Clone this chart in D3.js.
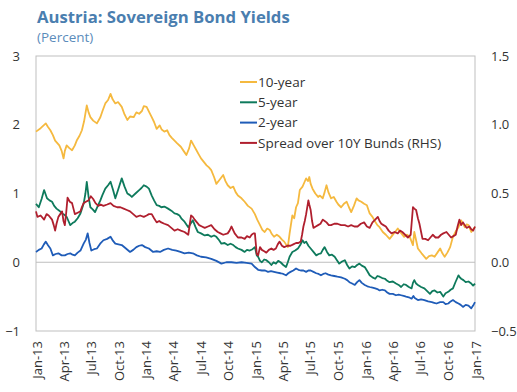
<!DOCTYPE html>
<html><head><meta charset="utf-8">
<script src="https://cdn.jsdelivr.net/npm/d3@7"></script>
<style>body{margin:0;background:#fff}svg{display:block}</style>
</head><body><svg id="c" width="517" height="392"></svg>
<script>
// months since Jan-2013, value
const tenYear = [[0,1.90],[0.5,1.95],[1.06,2.02],[1.3,1.97],[1.6,1.92],[1.9,1.85],[2.15,1.77],[2.6,1.70],[2.85,1.62],[3.06,1.51],[3.2,1.62],[3.4,1.70],[3.7,1.66],[4,1.63],[4.3,1.70],[4.5,1.77],[4.8,1.84],[5.06,1.92],[5.3,2.05],[5.6,2.28],[5.8,2.18],[6,2.11],[6.3,2.06],[6.7,2.02],[7.07,2.11],[7.3,2.20],[7.6,2.31],[7.9,2.36],[8.17,2.45],[8.4,2.37],[8.7,2.31],[9.0,2.33],[9.4,2.26],[9.7,2.15],[10,2.07],[10.3,2.12],[10.7,2.11],[11.0,2.18],[11.3,2.16],[11.6,2.20],[11.8,2.27],[12.1,2.26],[12.35,2.19],[12.65,2.11],[12.9,2.04],[13.2,1.94],[13.56,1.99],[13.8,1.93],[14.1,1.90],[14.4,1.92],[14.65,1.85],[14.9,1.81],[15.2,1.77],[15.5,1.73],[15.9,1.68],[16.2,1.62],[16.5,1.56],[16.8,1.66],[17,1.77],[17.3,1.70],[17.6,1.63],[17.85,1.57],[18.1,1.51],[18.4,1.46],[18.7,1.41],[18.95,1.38],[19.2,1.34],[19.5,1.24],[19.75,1.14],[20.1,1.20],[20.5,1.27],[20.75,1.18],[21,1.12],[21.3,1.08],[21.6,1.10],[21.85,1.02],[22.1,0.97],[22.5,0.93],[22.85,0.88],[23.2,0.82],[23.6,0.78],[23.95,0.70],[24.2,0.62],[24.5,0.54],[24.75,0.47],[25,0.44],[25.3,0.49],[25.6,0.47],[25.85,0.41],[26.1,0.37],[26.4,0.40],[26.7,0.37],[26.95,0.33],[27.2,0.30],[27.4,0.26],[27.6,0.22],[27.8,0.42],[28.1,0.68],[28.3,0.64],[28.5,0.80],[28.7,0.86],[28.9,1.05],[29.2,1.10],[29.4,1.16],[29.6,1.22],[29.8,1.18],[29.95,1.24],[30.1,1.14],[30.3,1.07],[30.6,1.00],[30.9,0.95],[31.1,0.97],[31.4,0.93],[31.6,1.02],[31.8,1.12],[32.0,1.02],[32.3,0.93],[32.6,0.95],[32.9,0.88],[33.1,0.84],[33.4,0.80],[33.7,0.85],[34,0.88],[34.25,0.80],[34.5,0.73],[34.8,0.82],[35.1,0.93],[35.3,0.90],[35.6,0.88],[35.9,0.85],[36.2,0.83],[36.5,0.71],[36.8,0.66],[37.1,0.59],[37.35,0.54],[37.6,0.51],[37.97,0.44],[38.3,0.40],[38.7,0.34],[39,0.39],[39.3,0.44],[39.6,0.49],[40,0.42],[40.3,0.37],[40.6,0.40],[40.9,0.37],[41.25,0.25],[41.4,0.44],[41.8,0.20],[42.2,0.13],[42.45,0.09],[42.7,0.05],[43,0.09],[43.3,0.10],[43.6,0.08],[43.9,0.14],[44.2,0.20],[44.45,0.13],[44.7,0.08],[45,0.14],[45.3,0.22],[45.6,0.37],[45.9,0.45],[46.2,0.51],[46.5,0.61],[46.7,0.56],[46.9,0.51],[47.1,0.55],[47.3,0.54],[47.6,0.44],[47.8,0.48],[48,0.51]];

const fiveYear = [[0,0.85],[0.3,0.80],[0.6,0.92],[0.87,1.05],[1.2,0.93],[1.5,0.90],[1.8,0.88],[2.05,0.82],[2.3,0.78],[2.6,0.75],[2.9,0.71],[3.15,0.69],[3.4,0.66],[3.6,0.60],[3.8,0.54],[4.05,0.57],[4.3,0.59],[4.6,0.64],[4.9,0.71],[5.25,0.85],[5.45,1.00],[5.6,1.17],[5.8,0.95],[6,0.80],[6.25,0.77],[6.5,0.73],[6.8,0.82],[7.07,0.90],[7.3,0.98],[7.6,1.07],[7.9,1.12],[8.17,1.17],[8.45,1.05],[8.7,0.93],[9.0,1.05],[9.4,1.22],[9.7,1.10],[10,1.00],[10.25,0.98],[10.5,0.95],[10.9,1.00],[11.3,1.05],[11.55,1.08],[11.8,1.12],[12.1,1.10],[12.35,1.07],[12.65,0.97],[12.9,0.90],[13.2,0.83],[13.5,0.82],[13.75,0.80],[14.1,0.81],[14.5,0.78],[14.85,0.75],[15.2,0.71],[15.5,0.70],[15.75,0.68],[16.0,0.63],[16.3,0.59],[16.5,0.55],[16.7,0.51],[16.95,0.56],[17.2,0.61],[17.5,0.51],[17.75,0.44],[18.1,0.42],[18.5,0.39],[18.85,0.40],[19.2,0.37],[19.5,0.39],[19.75,0.37],[20.05,0.32],[20.3,0.27],[20.65,0.28],[21,0.25],[21.3,0.27],[21.6,0.25],[21.85,0.22],[22.1,0.20],[22.5,0.18],[22.85,0.15],[23.1,0.18],[23.4,0.17],[23.7,0.19],[23.95,0.22],[24.15,0.10],[24.3,0.08],[24.5,0.02],[24.7,0.00],[24.95,0.04],[25.2,0.03],[25.5,0.00],[25.8,-0.04],[26.05,0.00],[26.3,-0.02],[26.55,0.02],[26.8,0.00],[27.1,-0.04],[27.4,-0.07],[27.6,0.00],[27.8,0.08],[28.1,0.15],[28.4,0.17],[28.7,0.20],[28.95,0.25],[29.2,0.32],[29.4,0.28],[29.6,0.30],[29.85,0.24],[30.1,0.20],[30.4,0.15],[30.7,0.10],[30.95,0.12],[31.2,0.13],[31.4,0.18],[31.6,0.22],[31.85,0.15],[32.1,0.10],[32.4,0.11],[32.7,0.08],[32.95,0.03],[33.2,-0.02],[33.5,0.01],[33.8,0.03],[34.05,-0.04],[34.3,-0.09],[34.6,-0.06],[34.9,-0.07],[35.15,-0.04],[35.4,-0.02],[35.65,-0.05],[35.97,-0.07],[36.25,-0.13],[36.5,-0.19],[36.8,-0.22],[37.1,-0.24],[37.35,-0.20],[37.6,-0.21],[37.9,-0.23],[38.2,-0.24],[38.45,-0.27],[38.7,-0.29],[39.05,-0.28],[39.4,-0.31],[39.7,-0.33],[39.97,-0.36],[40.25,-0.32],[40.5,-0.33],[40.8,-0.36],[41.1,-0.38],[41.25,-0.30],[41.4,-0.26],[41.6,-0.31],[41.8,-0.33],[42.15,-0.36],[42.5,-0.38],[42.8,-0.42],[43.1,-0.46],[43.35,-0.42],[43.6,-0.41],[43.9,-0.44],[44.2,-0.43],[44.4,-0.47],[44.55,-0.50],[44.8,-0.45],[45.1,-0.43],[45.35,-0.40],[45.6,-0.38],[45.9,-0.28],[46.2,-0.19],[46.35,-0.22],[46.5,-0.24],[46.75,-0.26],[47,-0.29],[47.3,-0.28],[47.6,-0.31],[47.8,-0.34],[48,-0.31]];

const twoYear = [[0,0.15],[0.3,0.18],[0.6,0.20],[0.85,0.26],[1.06,0.30],[1.3,0.25],[1.6,0.20],[1.9,0.10],[2.2,0.12],[2.5,0.13],[2.85,0.10],[3.2,0.10],[3.5,0.12],[3.8,0.13],[4.05,0.11],[4.3,0.10],[4.6,0.14],[4.9,0.17],[5.25,0.27],[5.5,0.33],[5.7,0.42],[5.9,0.28],[6.1,0.17],[6.4,0.19],[6.7,0.20],[7.05,0.27],[7.4,0.32],[7.8,0.34],[8.17,0.37],[8.45,0.31],[8.7,0.27],[9.05,0.26],[9.4,0.25],[9.85,0.20],[10.3,0.15],[10.65,0.18],[11,0.22],[11.3,0.24],[11.6,0.25],[11.95,0.22],[12.35,0.20],[12.8,0.15],[13.2,0.16],[13.6,0.15],[14.05,0.18],[14.5,0.20],[14.95,0.18],[15.4,0.17],[15.85,0.15],[16.3,0.13],[16.75,0.14],[17.2,0.13],[17.65,0.10],[18.1,0.08],[18.65,0.07],[19.2,0.05],[19.75,0.02],[20.3,-0.02],[20.85,0.00],[21.4,0.00],[21.95,-0.01],[22.5,0.00],[23.05,-0.01],[23.6,-0.02],[23.95,-0.07],[24.3,-0.11],[24.7,-0.12],[25.05,-0.12],[25.4,-0.14],[25.75,-0.13],[26.1,-0.14],[26.45,-0.15],[26.8,-0.16],[27.1,-0.17],[27.4,-0.19],[27.65,-0.16],[27.9,-0.14],[28.2,-0.12],[28.5,-0.09],[28.75,-0.11],[29,-0.12],[29.3,-0.12],[29.6,-0.14],[29.85,-0.12],[30.1,-0.12],[30.4,-0.14],[30.7,-0.16],[30.95,-0.17],[31.2,-0.19],[31.45,-0.17],[31.7,-0.16],[32,-0.18],[32.3,-0.19],[32.65,-0.20],[33,-0.21],[33.4,-0.22],[33.8,-0.24],[34.05,-0.26],[34.3,-0.29],[34.6,-0.31],[34.9,-0.33],[35.15,-0.29],[35.4,-0.26],[35.65,-0.30],[35.97,-0.33],[36.25,-0.35],[36.5,-0.36],[36.8,-0.37],[37.1,-0.38],[37.35,-0.39],[37.6,-0.41],[37.9,-0.40],[38.2,-0.41],[38.45,-0.44],[38.7,-0.46],[39.05,-0.46],[39.4,-0.48],[39.7,-0.47],[39.97,-0.48],[40.25,-0.49],[40.5,-0.50],[40.8,-0.51],[41.1,-0.53],[41.3,-0.49],[41.45,-0.52],[41.8,-0.55],[42.15,-0.54],[42.5,-0.55],[42.9,-0.57],[43.3,-0.58],[43.55,-0.59],[43.8,-0.60],[44.2,-0.58],[44.55,-0.58],[44.8,-0.61],[45.1,-0.60],[45.35,-0.57],[45.6,-0.55],[45.9,-0.58],[46.2,-0.60],[46.45,-0.62],[46.7,-0.65],[47,-0.62],[47.3,-0.63],[47.6,-0.67],[47.8,-0.63],[48,-0.58]];

const spread = [[0,0.37],[0.15,0.33],[0.5,0.34],[0.87,0.31],[1.15,0.35],[1.4,0.34],[1.8,0.31],[2.0,0.27],[2.15,0.23],[2.3,0.28],[2.5,0.33],[2.7,0.35],[2.9,0.37],[3.05,0.30],[3.2,0.27],[3.35,0.36],[3.5,0.47],[3.75,0.44],[4,0.43],[4.15,0.39],[4.3,0.35],[4.6,0.36],[4.9,0.37],[5.05,0.40],[5.25,0.43],[5.5,0.44],[5.8,0.45],[6.05,0.48],[6.3,0.46],[6.55,0.43],[6.85,0.41],[7.1,0.42],[7.4,0.41],[7.8,0.42],[8.17,0.43],[8.5,0.41],[8.9,0.40],[9.25,0.40],[9.6,0.39],[9.95,0.38],[10.3,0.37],[10.65,0.35],[11,0.33],[11.4,0.34],[11.8,0.33],[12.1,0.34],[12.35,0.35],[12.65,0.35],[12.9,0.32],[13.2,0.29],[13.5,0.30],[13.75,0.29],[14.1,0.28],[14.5,0.27],[14.85,0.25],[15.2,0.23],[15.55,0.24],[15.9,0.23],[16.3,0.22],[16.7,0.20],[17,0.34],[17.2,0.33],[17.4,0.31],[17.65,0.29],[17.9,0.27],[18.2,0.26],[18.5,0.25],[18.85,0.26],[19.2,0.27],[19.55,0.24],[19.9,0.22],[20.2,0.21],[20.5,0.20],[21,0.21],[21.2,0.23],[21.4,0.26],[21.75,0.21],[22.1,0.18],[22.5,0.18],[22.85,0.17],[23.1,0.19],[23.4,0.18],[23.6,0.20],[23.8,0.21],[23.95,0.21],[24.15,0.06],[24.3,0.05],[24.5,0.11],[24.7,0.09],[24.95,0.08],[25.2,0.07],[25.5,0.09],[25.8,0.10],[26.05,0.09],[26.3,0.10],[26.5,0.13],[26.7,0.15],[26.95,0.12],[27.2,0.11],[27.55,0.12],[27.9,0.12],[28.2,0.13],[28.5,0.14],[28.75,0.14],[29,0.15],[29.15,0.20],[29.3,0.26],[29.45,0.30],[29.6,0.35],[29.85,0.45],[29.95,0.42],[30.1,0.38],[30.25,0.30],[30.4,0.25],[30.65,0.26],[30.9,0.27],[31.15,0.28],[31.4,0.31],[31.6,0.30],[31.8,0.29],[32.05,0.27],[32.3,0.27],[32.65,0.28],[33,0.28],[33.4,0.27],[33.8,0.27],[34.15,0.26],[34.5,0.27],[34.85,0.26],[35.2,0.26],[35.55,0.28],[35.9,0.29],[36.2,0.26],[36.5,0.25],[36.8,0.29],[37.1,0.31],[37.4,0.33],[37.6,0.30],[37.8,0.28],[38.05,0.27],[38.3,0.26],[38.6,0.23],[38.9,0.21],[39.25,0.22],[39.6,0.21],[39.85,0.23],[40.1,0.22],[40.4,0.20],[40.7,0.18],[41,0.20],[41.25,0.40],[41.4,0.39],[41.6,0.38],[41.8,0.32],[41.97,0.28],[42.15,0.22],[42.3,0.17],[42.6,0.17],[42.9,0.16],[43.15,0.18],[43.4,0.20],[43.7,0.18],[44,0.18],[44.3,0.20],[44.55,0.21],[44.9,0.22],[45.15,0.20],[45.4,0.18],[45.65,0.19],[45.9,0.20],[46.1,0.26],[46.3,0.31],[46.5,0.27],[46.7,0.29],[46.9,0.27],[47.1,0.25],[47.4,0.26],[47.6,0.24],[47.8,0.23],[48,0.26]];

const leftTicks = [-1, 0, 1, 2, 3];
const rightTicks = [-0.5, 0.0, 0.5, 1.0, 1.5];
const seriesNames = ["10-year", "5-year", "2-year", "Spread over 10Y Bunds (RHS)"];
const seriesColors = ["#F5B93F", "#0E7A5C", "#1F5CB8", "#B01F2E"];

const svg = d3.select("#c");
const L = 36, R = 475, T = 56, B = 331;
const start = new Date(2013, 0, 1), end = new Date(2017, 0, 1);
const toDate = m => { const y = Math.floor(m / 12); const mm = m - y*12; const d0 = new Date(2013 + y, Math.floor(mm), 1); const d1 = new Date(2013 + y, Math.floor(mm) + 1, 1); return new Date(+d0 + (mm - Math.floor(mm)) * (d1 - d0)); };
const x = d3.scaleTime().domain([start, end]).range([L, R]);
const yL = d3.scaleLinear().domain([-1, 3]).range([B, T]);
const yR = d3.scaleLinear().domain([-0.5, 1.5]).range([B, T]);

const font = "'Open Sans', 'Noto Sans', sans-serif";
svg.append("text").attr("x", 37).attr("y", 23).attr("fill", "#4A7EAF").attr("font-family", font)
  .attr("font-size", 16.7).attr("font-weight", "bold").text("Austria: Sovereign Bond Yields");
svg.append("text").attr("x", 37).attr("y", 42).attr("fill", "#5B8CBB").attr("font-family", font)
  .attr("font-size", 13.5).text("(Percent)");

// frame
svg.append("rect").attr("x", L).attr("y", T).attr("width", R - L).attr("height", B - T)
  .attr("fill", "none").attr("stroke", "#BFBFBF").attr("stroke-width", 1);
svg.append("line").attr("x1", L).attr("x2", R).attr("y1", yL(0)).attr("y2", yL(0))
  .attr("stroke", "#BFBFBF").attr("stroke-width", 1);

// axes
const gl = svg.append("g").attr("transform", `translate(${L},0)`)
  .call(d3.axisLeft(yL).tickValues(leftTicks).tickSize(0).tickPadding(16).tickFormat(d3.format("d")));
const gr = svg.append("g").attr("transform", `translate(${R},0)`)
  .call(d3.axisRight(yR).tickValues(rightTicks).tickSize(0).tickPadding(16).tickFormat(d3.format(".1f")));
const xTicks = d3.timeMonth.every(3).range(start, d3.timeDay.offset(end, 1));
const gx = svg.append("g").attr("transform", `translate(0,${B})`)
  .call(d3.axisBottom(x).tickValues(xTicks).tickSize(0).tickFormat(d3.timeFormat("%b-%y")));
[gl, gr, gx].forEach(g => {
  g.select(".domain").remove();
  g.selectAll("text").attr("font-family", font).attr("font-size", 13).attr("fill", "#333");
});
gx.selectAll("text").attr("transform", "rotate(-90)").attr("text-anchor", "end")
  .attr("x", -10).attr("y", 0).attr("dx", 0).attr("dy", "0.4em");

// lines
const lineL = d3.line().x(d => x(toDate(d[0]))).y(d => yL(d[1]));
const lineR = d3.line().x(d => x(toDate(d[0]))).y(d => yR(d[1]));
const g = svg.append("g");
[[tenYear, lineL, 0], [fiveYear, lineL, 1], [twoYear, lineL, 2], [spread, lineR, 3]].forEach(([data, ln, i]) => {
  g.append("path").datum(data).attr("d", ln).attr("fill", "none")
    .attr("stroke", seriesColors[i]).attr("stroke-width", 1.8).attr("stroke-linejoin", "round");
});

// legend
const lg = svg.append("g");
seriesNames.forEach((n, i) => {
  const yy = 82 + i * 20.3;
  lg.append("line").attr("x1", 240).attr("x2", 257).attr("y1", yy).attr("y2", yy)
    .attr("stroke", seriesColors[i]).attr("stroke-width", 2);
  lg.append("text").attr("x", 258).attr("y", yy).attr("dy", "0.35em").attr("font-family", font)
    .attr("font-size", 13.5).attr("fill", "#333").text(n);
});
</script></body></html>
